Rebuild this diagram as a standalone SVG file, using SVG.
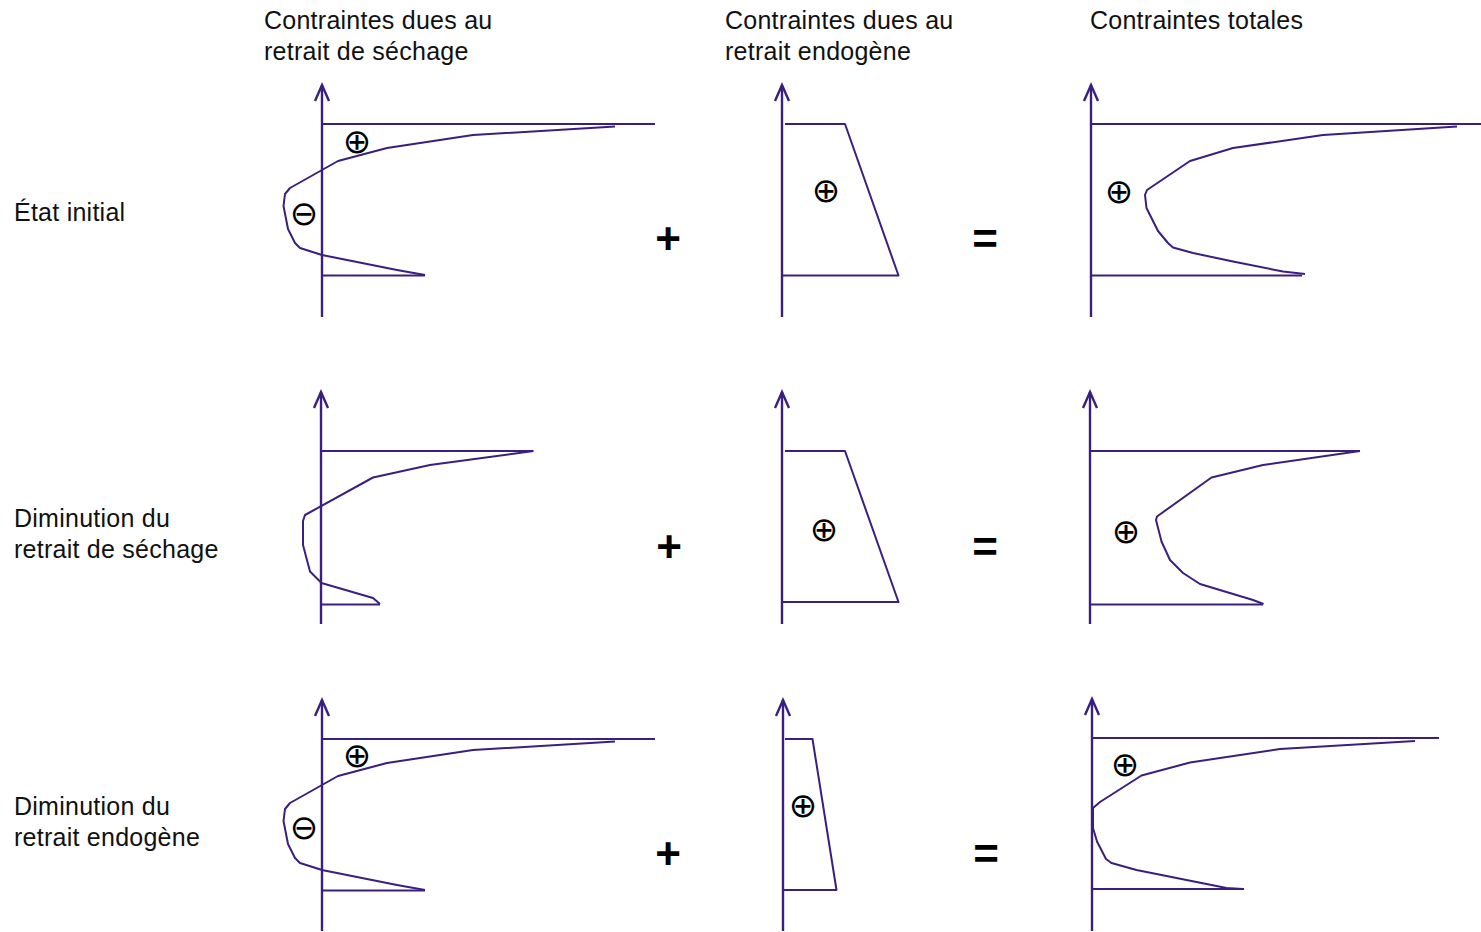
<svg xmlns="http://www.w3.org/2000/svg" width="1481" height="932" viewBox="0 0 1481 932">
<style>
.ln{fill:none;stroke:#3b1f7e;stroke-width:2;stroke-linejoin:round;stroke-linecap:butt}
.ax{fill:none;stroke:#3b1f7e;stroke-width:2.4}
.lbl{font-family:"Liberation Sans",Arial,sans-serif;font-size:25px;letter-spacing:0.25px;fill:#111}
.sym{font-family:"DejaVu Sans",sans-serif;font-size:34px;fill:#000;text-anchor:middle}
.op{font-family:"Liberation Sans",Arial,sans-serif;font-size:44px;font-weight:bold;fill:#000;text-anchor:middle}
</style>
<rect width="1481" height="932" fill="#fff"/>

<g id="headers">
<text class="lbl" x="264" y="29">Contraintes dues au</text>
<text class="lbl" x="264" y="60">retrait de séchage</text>
<text class="lbl" x="725" y="29">Contraintes dues au</text>
<text class="lbl" x="725" y="60">retrait endogène</text>
<text class="lbl" x="1090" y="29">Contraintes totales</text>
</g>

<g id="row-labels">
<text class="lbl" x="14" y="221">État initial</text>
<text class="lbl" x="14" y="527">Diminution du</text>
<text class="lbl" x="14" y="558">retrait de séchage</text>
<text class="lbl" x="14" y="815">Diminution du</text>
<text class="lbl" x="14" y="846">retrait endogène</text>
</g>

<g id="operators">
<text class="op" x="668" y="254">+</text>
<text class="op" x="985" y="254">=</text>
<text class="op" x="669" y="562">+</text>
<text class="op" x="985" y="562">=</text>
<text class="op" x="668" y="869">+</text>
<text class="op" x="986" y="869">=</text>
</g>

<!-- Row 1 -->
<g id="r1-sechage">
<line class="ax" x1="322" y1="317" x2="322" y2="85"/>
<polyline class="ax" points="315,101 322,85 329,101"/>
<line class="ln" x1="321" y1="124" x2="655" y2="124"/>
<line class="ln" x1="322" y1="275.5" x2="425" y2="275.5"/>
<polyline class="ln" points="615,126.5 473,135 387,148 338,161 290,188 285,194 283.5,206 288,229 295,243 300,248 322,255 397,270 425,275"/>
<text class="sym" x="357" y="153">⊕</text>
<text class="sym" x="304" y="225">⊖</text>
</g>
<g id="r1-endogene">
<line class="ax" x1="782" y1="317" x2="782" y2="85"/>
<polyline class="ax" points="775,101 782,85 789,101"/>
<polyline class="ln" points="785,124 845,124 898.5,275.5 782,275.5"/>
<text class="sym" x="826" y="202">⊕</text>
</g>
<g id="r1-total">
<line class="ax" x1="1091" y1="317" x2="1091" y2="85"/>
<polyline class="ax" points="1084,101 1091,85 1098,101"/>
<line class="ln" x1="1090" y1="124" x2="1481" y2="124"/>
<line class="ln" x1="1091" y1="275.5" x2="1302" y2="275.5"/>
<polyline class="ln" points="1457,126.5 1323,135 1233,148 1190,161 1147,190 1145,195 1146.5,208 1158,231 1168,243 1173,247.5 1193,253 1233,261.5 1283,271.5 1305,274"/>
<text class="sym" x="1119" y="203">⊕</text>
</g>

<!-- Row 2 -->
<g id="r2-sechage">
<line class="ax" x1="321" y1="624" x2="321" y2="392"/>
<polyline class="ax" points="314,408 321,392 328,408"/>
<line class="ln" x1="321" y1="451" x2="533" y2="451"/>
<line class="ln" x1="321" y1="604.5" x2="380" y2="604.5"/>
<polyline class="ln" points="533.5,451 430,465 373,477.5 305,515 303,521 303,545 310,571.5 321.5,583 373,598 380,604"/>
</g>
<g id="r2-endogene">
<line class="ax" x1="782" y1="624" x2="782" y2="392"/>
<polyline class="ax" points="775,408 782,392 789,408"/>
<polyline class="ln" points="785,451 845,451 898.5,602 782,602"/>
<text class="sym" x="824" y="541">⊕</text>
</g>
<g id="r2-total">
<line class="ax" x1="1090" y1="624" x2="1090" y2="392"/>
<polyline class="ax" points="1083,408 1090,392 1097,408"/>
<line class="ln" x1="1090" y1="451" x2="1360" y2="451"/>
<line class="ln" x1="1090" y1="604.5" x2="1263" y2="604.5"/>
<polyline class="ln" points="1360,451 1263,465 1211.5,477.5 1157,516.5 1156,520 1161.5,541.5 1170,560 1183,573 1200,584 1253,600 1263.5,604"/>
<text class="sym" x="1126" y="543">⊕</text>
</g>

<!-- Row 3 -->
<g id="r3-sechage">
<line class="ax" x1="322" y1="931" x2="322" y2="700"/>
<polyline class="ax" points="315,716 322,700 329,716"/>
<line class="ln" x1="321" y1="739" x2="655" y2="739"/>
<line class="ln" x1="322" y1="890.5" x2="425" y2="890.5"/>
<polyline class="ln" points="615,741.5 473,750 387,763 338,776 290,803 285,809 283.5,821 288,844 295,858 300,863 322,870 397,885 425,890"/>
<text class="sym" x="357" y="767">⊕</text>
<text class="sym" x="304" y="839">⊖</text>
</g>
<g id="r3-endogene">
<line class="ax" x1="783" y1="931" x2="783" y2="700"/>
<polyline class="ax" points="776,716 783,700 790,716"/>
<polyline class="ln" points="785,739 812.5,739 836.5,890 783,890"/>
<text class="sym" x="803" y="817">⊕</text>
</g>
<g id="r3-total">
<line class="ax" x1="1092" y1="931" x2="1092" y2="699"/>
<polyline class="ax" points="1085,715 1092,699 1099,715"/>
<line class="ln" x1="1091" y1="738" x2="1439" y2="738"/>
<line class="ln" x1="1092" y1="889" x2="1244" y2="889"/>
<polyline class="ln" points="1415,741 1280,749 1190,762.5 1141.5,775.5 1100,802 1093,808 1093,828 1097,841.5 1106,859 1111.5,863 1136.5,870 1226.5,888 1243,889"/>
<text class="sym" x="1125" y="776">⊕</text>
</g>
</svg>
